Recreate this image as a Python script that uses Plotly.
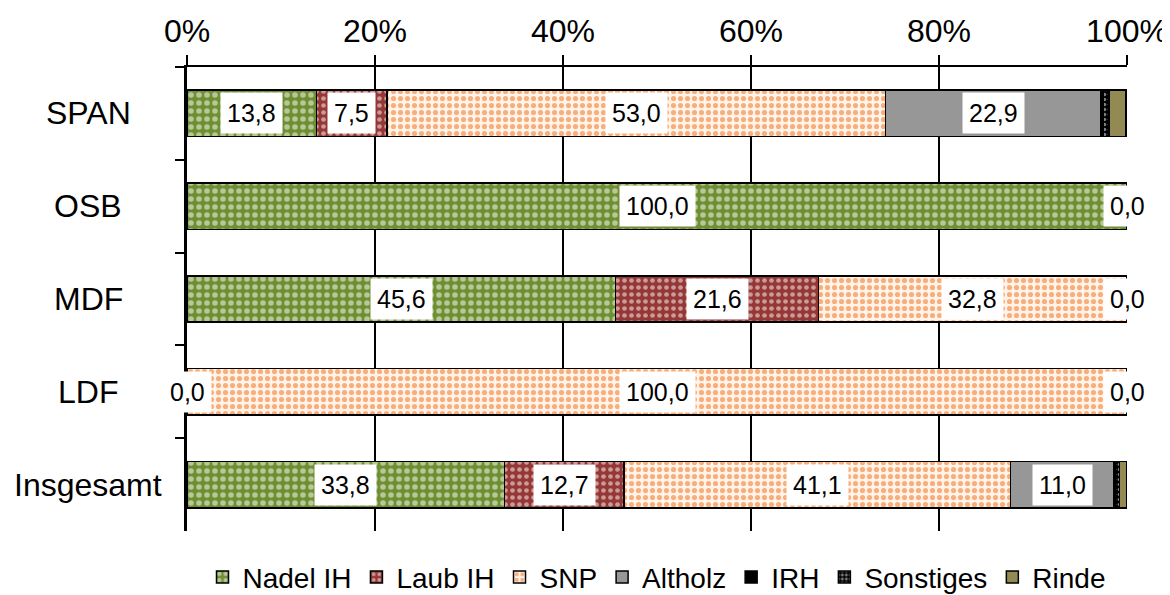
import plotly.graph_objects as go

categories = ["SPAN", "OSB", "MDF", "LDF", "Insgesamt"]

nadel_ih = [13.8, 100.0, 45.6, 0.0, 33.8]
laub_ih = [7.5, 0.0, 21.6, 0.0, 12.7]
snp = [53.0, 0.0, 32.8, 100.0, 41.1]
altholz = [22.9, 0.0, 0.0, 0.0, 11.0]
irh = [0.3, 0.0, 0.0, 0.0, 0.1]
sonstiges = [0.6, 0.0, 0.0, 0.0, 0.5]
rinde = [1.8, 0.0, 0.0, 0.0, 0.8]

# which segments carry a value label (as in the original Excel chart)
nadel_lbl = [True, True, True, True, True]
laub_lbl = [True, False, True, False, True]
snp_lbl = [True, False, True, True, True]
altholz_lbl = [True, False, False, False, True]
irh_lbl = [False] * 5
sonstiges_lbl = [False] * 5
rinde_lbl = [False, True, True, True, False]

series = [
    ("Nadel IH", nadel_ih, nadel_lbl, "#6E8F32", dict(shape=".", fgcolor="white", size=8, solidity=0.38, fillmode="overlay")),
    ("Laub IH", laub_ih, laub_lbl, "#953735", dict(shape=".", fgcolor="white", size=7, solidity=0.35, fillmode="overlay")),
    ("SNP", snp, snp_lbl, "#FFF3EA", dict(shape=".", fgcolor="#F06A0C", size=7, solidity=0.42, fillmode="overlay")),
    ("Altholz", altholz, altholz_lbl, "#979797", None),
    ("IRH", irh, irh_lbl, "#000000", None),
    ("Sonstiges", sonstiges, sonstiges_lbl, "#000000", dict(shape=".", fgcolor="white", size=5, solidity=0.4, fillmode="overlay")),
    ("Rinde", rinde, rinde_lbl, "#938953", None),
]

fig = go.Figure()
annotations = []
base = [0.0] * len(categories)

for name, vals, lbl, color, pattern in series:
    marker = dict(color=color, line=dict(color="black", width=1.5))
    if pattern:
        marker["pattern"] = pattern
    fig.add_trace(go.Bar(
        y=categories, x=vals, name=name, orientation="h",
        marker=marker, hoverinfo="x+name",
    ))
    for i, cat in enumerate(categories):
        if lbl[i]:
            annotations.append(dict(
                x=base[i] + vals[i] / 2, y=cat, xref="x", yref="y",
                text=f"{vals[i]:.1f}".replace(".", ","),
                showarrow=False, bgcolor="white", borderpad=6,
                font=dict(size=25, color="black"),
            ))
        base[i] += vals[i]

# category labels centred left of the axis
for cat in categories:
    annotations.append(dict(
        x=-0.105, y=cat, xref="paper", yref="y", text=cat,
        showarrow=False, xanchor="center",
        font=dict(size=32, color="black"),
    ))

# the page body adds an 8px offset, so the figure is a bit smaller than the window
fig.update_layout(
    barmode="stack",
    bargap=0.5,
    width=1162, height=587,
    plot_bgcolor="white", paper_bgcolor="white",
    font=dict(family="Liberation Sans, Arial, sans-serif", size=30, color="black"),
    margin=dict(l=179, r=43, t=59, b=64, autoexpand=False),
    annotations=annotations,
    legend=dict(
        orientation="h", x=0.5, xanchor="center",
        y=-0.1, yanchor="middle",
        font=dict(size=28), itemwidth=30, traceorder="normal",
    ),
    xaxis=dict(
        side="top", range=[0, 100], dtick=20, ticksuffix="%",
        showgrid=True, gridcolor="black", gridwidth=1.5,
        showline=True, linecolor="black", linewidth=2,
        ticks="outside", ticklen=10, tickcolor="black", tickwidth=2,
        zeroline=False, tickfont=dict(size=32), ticklabeloverflow="allow",
    ),
    yaxis=dict(
        autorange="reversed", showticklabels=False,
        showline=True, linecolor="black", linewidth=3,
        ticks="outside", tickson="boundaries", ticklen=9,
        tickcolor="black", tickwidth=2, showgrid=False,
    ),
)

fig.write_html("out.html")
